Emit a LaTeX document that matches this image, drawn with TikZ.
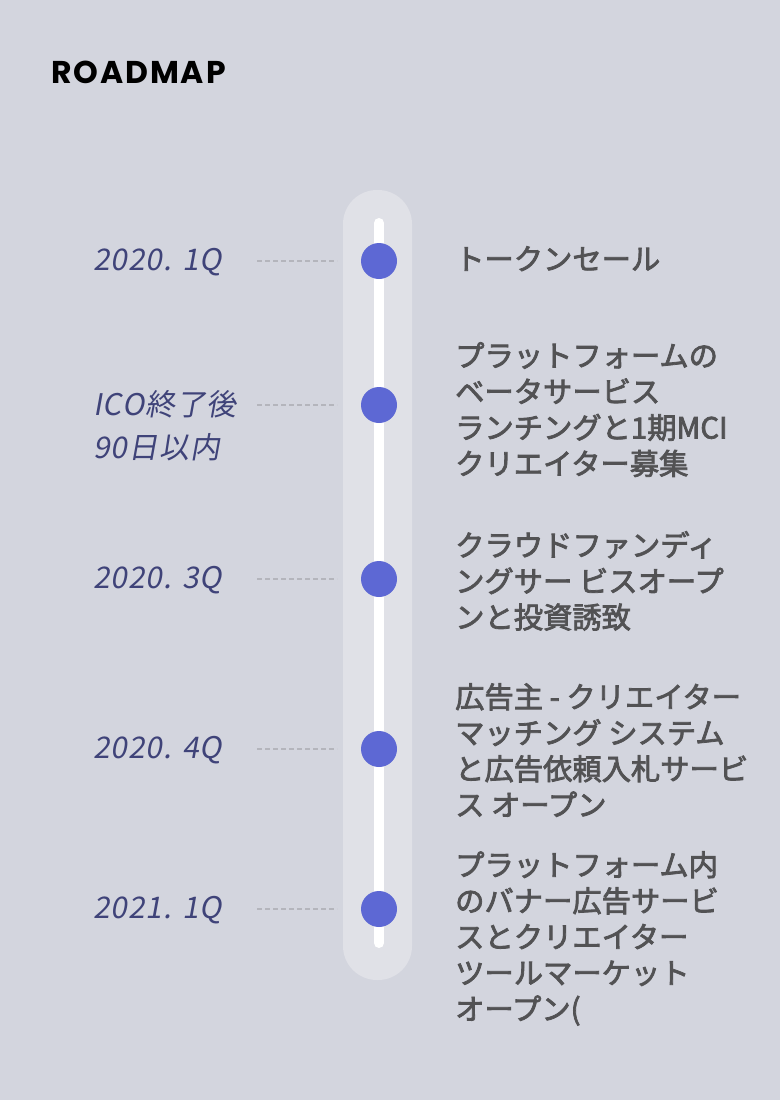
\documentclass[tikz,border=0pt]{standalone}
\usepackage{fontspec}
\newfontfamily\jp[FakeBold=2.6]{Noto Sans CJK JP}
\newfontfamily\jpit[FakeSlant=0.18, LetterSpace=3.5]{Noto Sans CJK JP}
\newfontfamily\pop[LetterSpace=6]{Poppins}
\definecolor{bg}{RGB}{211,213,222}
\definecolor{pill}{RGB}{224,225,231}
\definecolor{dotc}{RGB}{93,104,212}
\definecolor{datec}{RGB}{63,67,121}
\definecolor{txtc}{RGB}{82,82,84}
\definecolor{dashc}{RGB}{180,181,188}
\tikzset{
  dot/.style={circle, fill=dotc, minimum size=36pt, inner sep=0pt},
  datelbl/.style={anchor=west, inner sep=0pt, text=datec, font=\jpit\fontsize{29.8}{43}\selectfont, align=left},
  itemtxt/.style={anchor=north west, inner sep=0pt, text=txtc, font=\jp\fontsize{29.3}{36}\selectfont, align=left},
  leader/.style={draw=dashc, line width=1.3pt, dash pattern=on 5pt off 3pt},
}
\begin{document}
\begin{tikzpicture}[x=1pt,y=-1pt]
\useasboundingbox (0,0) rectangle (780,1100);
\fill[bg] (0,0) rectangle (780,1100);
\node[anchor=west, inner sep=0pt, font=\pop\bfseries\fontsize{31.5}{34}\selectfont] (title) at (51,72) {ROADMAP};
% track
\fill[pill, rounded corners=34pt] (343,190) rectangle (412,980);
\coordinate (ts) at (379,223);
\coordinate (te) at (379,943);
\draw[white, line width=10pt, line cap=round] (ts) -- (te);
% dots
\node[dot] (d1) at (379,261) {};
\node[dot] (d2) at (379,405) {};
\node[dot] (d3) at (379,579) {};
\node[dot] (d4) at (379,749) {};
\node[dot] (d5) at (379,909) {};
% leaders
\foreach \i/\y in {1/261,2/405,3/579,4/749,5/909}{
  \coordinate (la\i) at (257,\y);
  \coordinate (lb\i) at (337,\y);
  \draw[leader] (la\i) -- (lb\i);
}
% dates
\node[datelbl] (t1) at (93,262) {2020. 1Q};
\node[datelbl, anchor=north west] (t2) at (93,390) {ICO終了後\\90日以内};
\node[datelbl] (t3) at (93,580) {2020. 3Q};
\node[datelbl] (t4) at (93,750) {2020. 4Q};
\node[datelbl] (t5) at (93,910) {2021. 1Q};
% items
\node[itemtxt] (i1) at (455,246) {トークンセール};
\node[itemtxt] (i2) at (455,342) {プラットフォームの\\ベータサービス\\ランチングと1期MCI\\クリエイター募集};
\node[itemtxt] (i3) at (455,531) {クラウドファンディ\\ングサー ビスオープ\\ンと投資誘致};
\node[itemtxt] (i4) at (455,683) {広告主 - クリエイター\\マッチング システム\\と広告依頼入札サービ\\ス オープン};
\node[itemtxt] (i5) at (455,851) {プラットフォーム内\\のバナー広告サービ\\スとクリエイター\\ツールマーケット\\オープン(};
\end{tikzpicture}
\end{document}
